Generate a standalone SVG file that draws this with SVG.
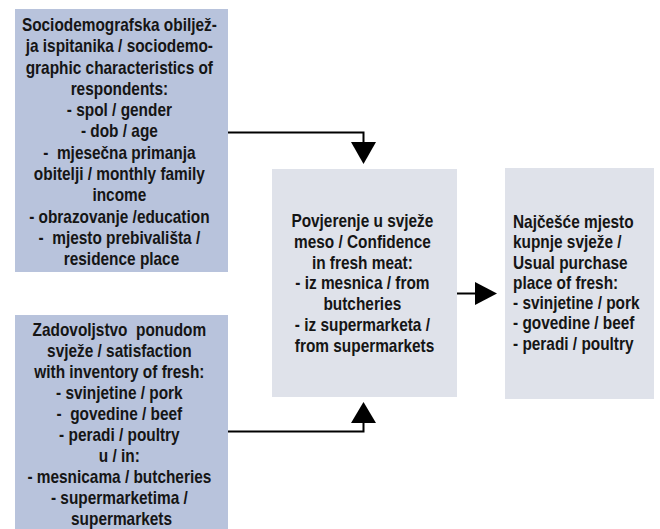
<svg xmlns="http://www.w3.org/2000/svg" width="660" height="529" viewBox="0 0 660 529">
<style>
.dark{fill:#b8c3dc}
.light{fill:#dfe2ea}
text{font-family:"Liberation Sans",Arial,sans-serif;font-weight:bold;font-size:17.5px;fill:#151515}
.c{text-anchor:middle}
.ln{stroke:#000;stroke-width:2;fill:none}
</style>
<rect width="660" height="529" fill="#fff"/>
<g id="socio">
<rect class="dark" x="15" y="9" width="213" height="263"/>
<g transform="translate(121.5,0) scale(0.88,1)">
<text class="c" x="0" y="31">
<tspan x="0" dy="0">Sociodemografska obiljež-</tspan>
<tspan x="0" dy="21.3">ja ispitanika / sociodemo-</tspan>
<tspan x="0" dy="21.3">graphic characteristics of</tspan>
<tspan x="0" dy="21.3">respondents:</tspan>
<tspan x="0" dy="21.3">- spol / gender</tspan>
<tspan x="0" dy="21.3">- dob / age</tspan>
<tspan x="0" dy="21.3" xml:space="preserve">-  mjesečna primanja</tspan>
<tspan x="0" dy="21.3">obitelji / monthly family</tspan>
<tspan x="0" dy="21.3">income</tspan>
<tspan x="0" dy="21.3">- obrazovanje /education</tspan>
<tspan x="0" dy="21.3" xml:space="preserve">-  mjesto prebivališta /</tspan>
<tspan x="0" dy="21.3">residence place</tspan>
</text>
</g>
</g>
<g id="satisf">
<rect class="dark" x="15" y="315" width="213" height="214"/>
<g transform="translate(121.5,0) scale(0.88,1)">
<text class="c" x="0" y="336">
<tspan x="0" dy="0" xml:space="preserve">Zadovoljstvo  ponudom</tspan>
<tspan x="0" dy="21">svježe / satisfaction</tspan>
<tspan x="0" dy="21">with inventory of fresh:</tspan>
<tspan x="0" dy="21">- svinjetine / pork</tspan>
<tspan x="0" dy="21" xml:space="preserve">-  govedine / beef</tspan>
<tspan x="0" dy="21">- peradi / poultry</tspan>
<tspan x="0" dy="21">u / in:</tspan>
<tspan x="0" dy="21">- mesnicama / butcheries</tspan>
<tspan x="0" dy="21">- supermarketima /</tspan>
<tspan x="0" dy="21">supermarkets</tspan>
</text>
</g>
</g>
<g id="confidence">
<rect class="light" x="272" y="169" width="185" height="228"/>
<g transform="translate(364.5,0) scale(0.88,1)">
<text class="c" x="0" y="227">
<tspan x="0" dy="0">Povjerenje u svježe</tspan>
<tspan x="0" dy="20.8">meso / Confidence</tspan>
<tspan x="0" dy="20.8">in fresh meat:</tspan>
<tspan x="0" dy="20.8">- iz mesnica / from</tspan>
<tspan x="0" dy="20.8">butcheries</tspan>
<tspan x="0" dy="20.8">- iz supermarketa /</tspan>
<tspan x="0" dy="20.8">from supermarkets</tspan>
</text>
</g>
</g>
<g id="purchase">
<rect class="light" x="505" y="168" width="149" height="231"/>
<g transform="translate(513,0) scale(0.88,1)">
<text x="0" y="228">
<tspan x="0" dy="0">Najčešće mjesto</tspan>
<tspan x="0" dy="20.3">kupnje svježe /</tspan>
<tspan x="0" dy="20.3">Usual purchase</tspan>
<tspan x="0" dy="20.3">place of fresh:</tspan>
<tspan x="0" dy="20.3">- svinjetine / pork</tspan>
<tspan x="0" dy="20.3">- govedine / beef</tspan>
<tspan x="0" dy="20.3">- peradi / poultry</tspan>
</text>
</g>
</g>
<g id="connectors">
<polyline class="ln" points="228,132.5 363.5,132.5 363.5,143"/>
<polygon points="351,142 376,142 363.5,164" fill="#000"/>
<polyline class="ln" points="228,431.5 363.5,431.5 363.5,422"/>
<polygon points="351,423 376,423 363.5,402" fill="#000"/>
<line class="ln" x1="457" y1="293.5" x2="477" y2="293.5"/>
<polygon points="475,282 475,305 497,293.5" fill="#000"/>
</g>
</svg>
